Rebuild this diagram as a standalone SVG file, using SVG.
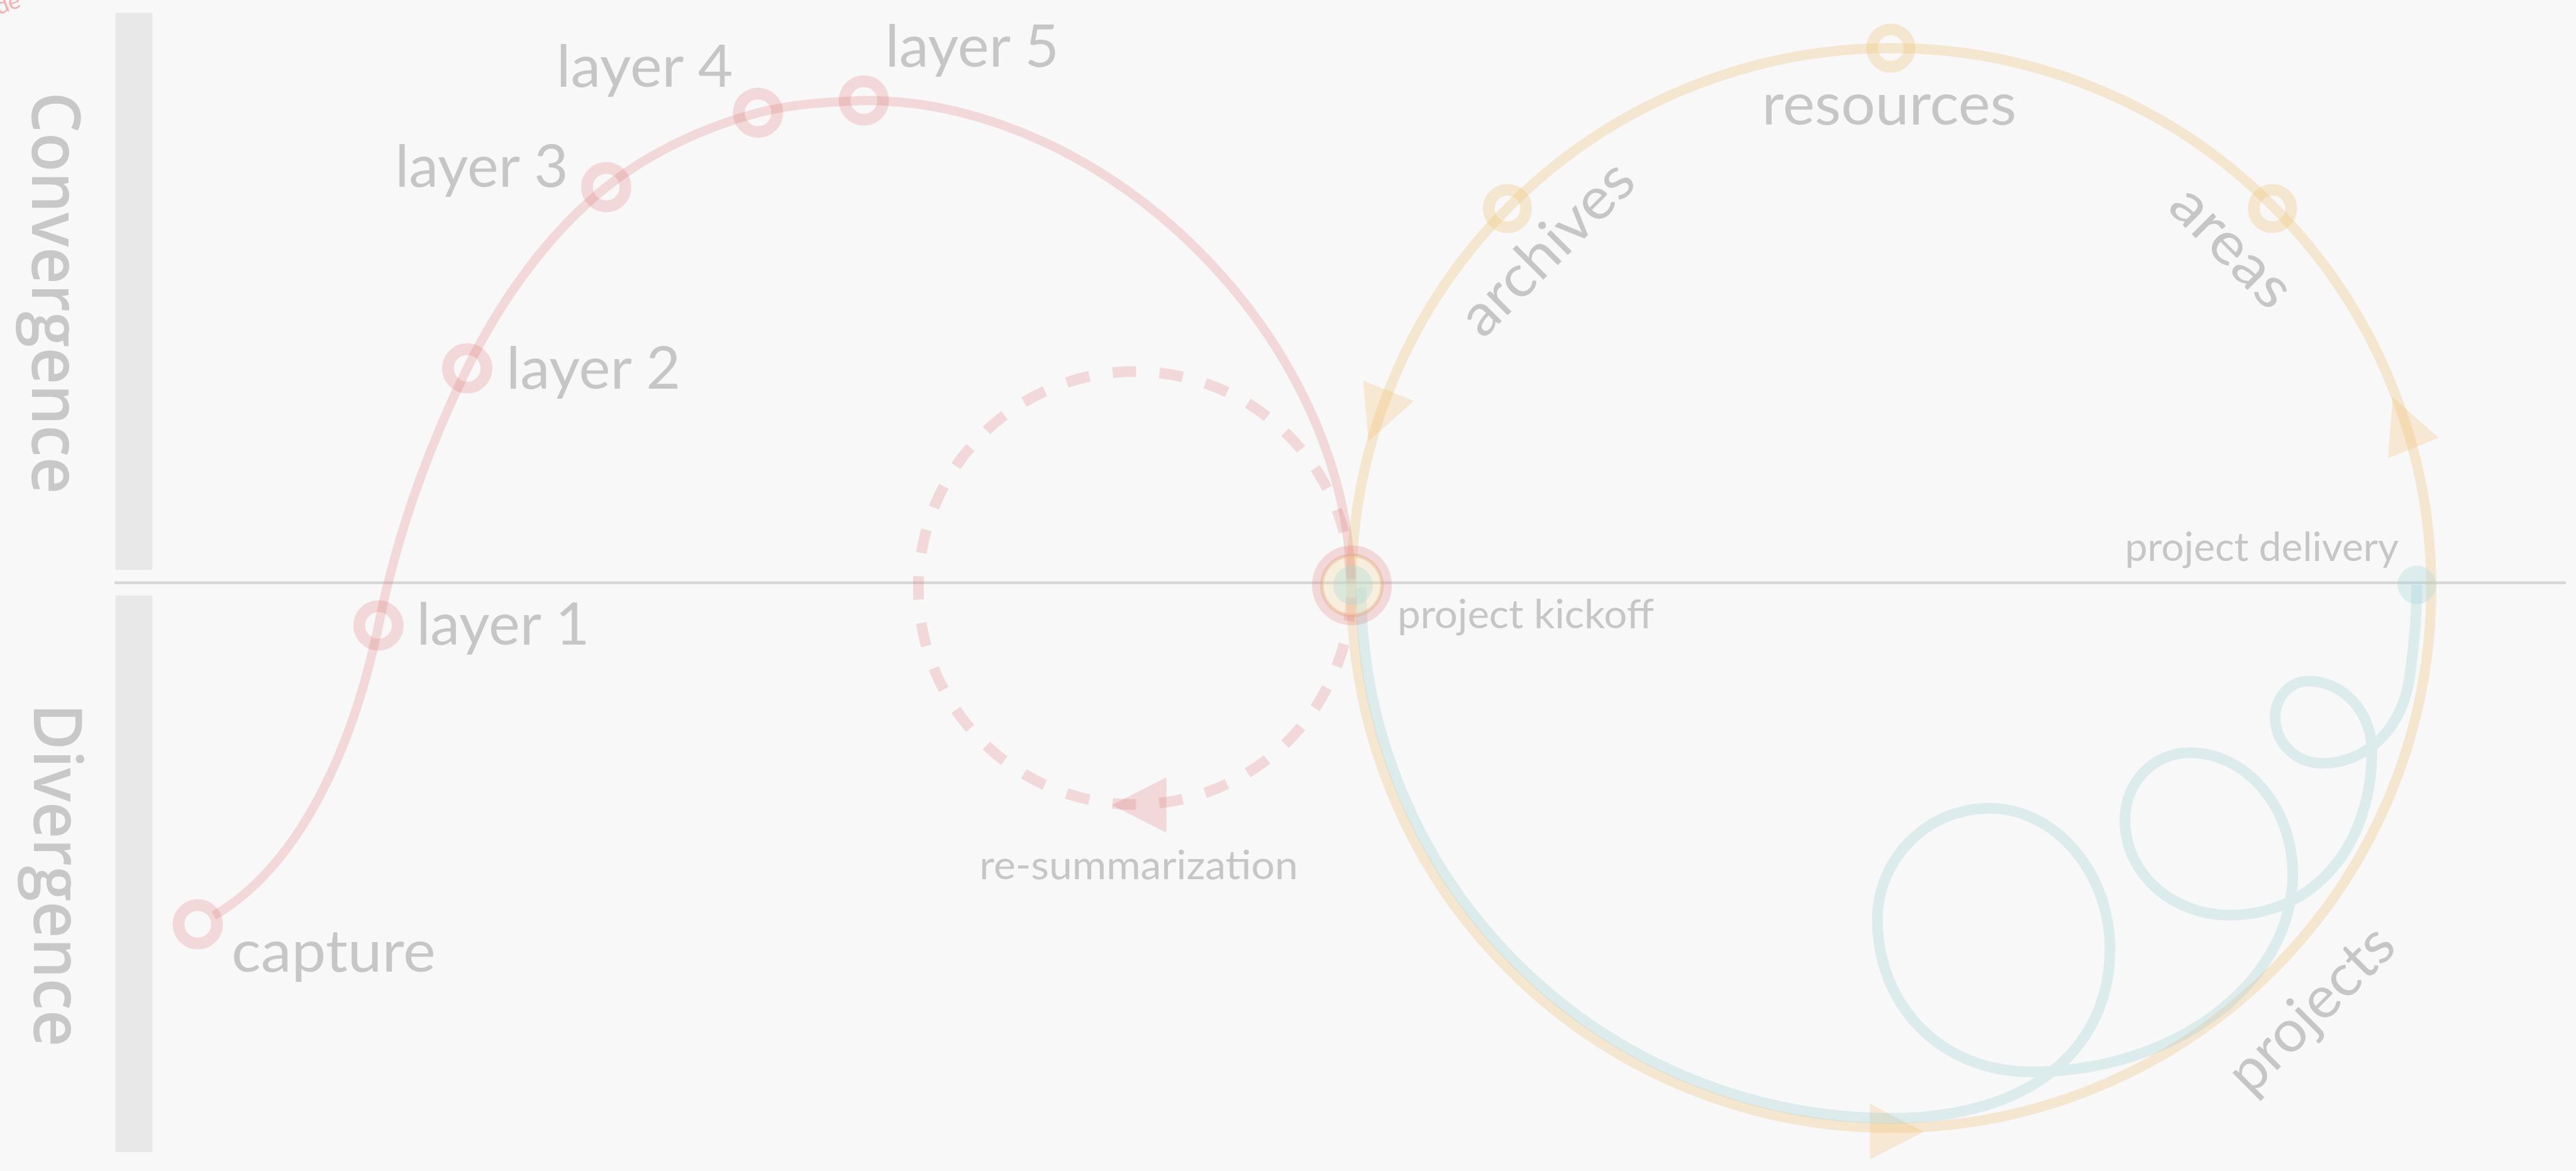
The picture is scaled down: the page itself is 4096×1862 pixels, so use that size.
<svg xmlns="http://www.w3.org/2000/svg" width="4096" height="1862" viewBox="0 0 4096 1862">
<style>
  text { font-family: Lato, "Open Sans", "Liberation Sans", sans-serif; fill: #c6c6c6; }
  .lbl { font-size: 110px; }
  .sm { font-size: 76px; }
  .side { font-family: "Open Sans", "Noto Sans", "Liberation Sans", sans-serif; font-weight: 600; font-size: 125px; fill: #c8c8c8; }
  .red { fill: none; stroke: #e07a7a; stroke-opacity: 0.26; }
  .yel { fill: none; stroke: #f0c070; stroke-opacity: 0.3; }
  .blu { fill: none; stroke: #95cdd2; stroke-opacity: 0.28; }
  .ring { stroke-width: 22; }
  .yfill { fill: #f0c070; fill-opacity: 0.28; }
  .rfill { fill: #e07a7a; fill-opacity: 0.26; }
  .bar { fill: #e8e8e8; }
</style>
<rect width="4096" height="1862" fill="#f8f8f8"/>
<g transform="scale(0.85)">
  <text transform="translate(-2,28) rotate(-20)" font-family="Open Sans, sans-serif" font-size="42" style="fill:#f7b0b0">de</text>

  <g id="axis">
    <rect class="bar" x="216" y="24" width="69" height="1042"/>
    <rect class="bar" x="216" y="1114" width="69" height="1041"/>
    <line x1="214" y1="1090" x2="4800" y2="1090" stroke="#d6d6d6" stroke-width="5"/>
    <text class="side" transform="translate(60,172) rotate(90)" textLength="752" lengthAdjust="spacingAndGlyphs">Convergence</text>
    <text class="side" transform="translate(63,1316) rotate(90)" textLength="642" lengthAdjust="spacingAndGlyphs">Divergence</text>
  </g>

  <g id="connectors">
    <circle class="yel" cx="3538" cy="1100" r="1010" stroke-width="19"/>
    <polygon class="yfill" points="2550,712 2645,750 2560,826"/>
    <polygon class="yfill" points="4476,743 4562,819 4467,857"/>
    <polygon class="yfill" points="3498,2065 3599,2117 3498,2169"/>
    <path class="blu" stroke-width="20" d="M2546,1100 A992,992 0 0 0 3538,2092 C3800,2092 3947,1960 3947,1775 C3947,1633 3845,1512 3721,1512 C3606,1512 3512,1606 3512,1720 C3512,1880 3630,2005 3800,2005 C4069,2005 4289,1838 4289,1635 C4289,1510 4202,1408 4096,1408 C4029,1408 3975,1464 3975,1533 C3975,1640 4070,1712 4170,1712 C4330,1712 4437,1580 4437,1405 C4437,1333 4384,1274 4318,1274 C4284,1274 4256,1305 4256,1341 C4256,1395 4300,1428 4345,1428 C4420,1428 4500,1370 4510,1246 C4518,1190 4521,1150 4521,1094"/>
    <path class="red" stroke-width="17" d="M400,1713 C560,1620 660,1400 708,1170 C742,1003 799,842 874,689 C936,563 1025,437 1134,350 C1216,285 1317,238 1418,211 C1483,194 1549,191 1616,188 C2080,188 2520,640 2527,1090"/>
    <circle class="red" cx="2123" cy="1100" r="405" stroke-width="20" stroke-dasharray="44 44" stroke-dashoffset="-18"/>
    <polygon class="rfill" points="2080,1506 2182,1454 2182,1558"/>
  </g>

  <g id="capture"><circle class="red ring" cx="370" cy="1729" r="36"/><text class="lbl" x="433" y="1818" textLength="382" lengthAdjust="spacingAndGlyphs">capture</text></g>
  <g id="layer1"><circle class="red ring" cx="708" cy="1170" r="36"/><text class="lbl" x="779" y="1206" textLength="324" lengthAdjust="spacingAndGlyphs">layer 1</text></g>
  <g id="layer2"><circle class="red ring" cx="874" cy="689" r="36"/><text class="lbl" x="947" y="727" textLength="326" lengthAdjust="spacingAndGlyphs">layer 2</text></g>
  <g id="layer3"><circle class="red ring" cx="1134" cy="350" r="36"/><text class="lbl" x="739" y="349" textLength="324" lengthAdjust="spacingAndGlyphs">layer 3</text></g>
  <g id="layer4"><circle class="red ring" cx="1418" cy="211" r="36"/><text class="lbl" x="1041" y="162" textLength="330" lengthAdjust="spacingAndGlyphs">layer 4</text></g>
  <g id="layer5"><circle class="red ring" cx="1616" cy="188" r="36"/><text class="lbl" x="1656" y="125" textLength="325" lengthAdjust="spacingAndGlyphs">layer 5</text></g>

  <g id="resummarization"><text class="sm" x="1832" y="1645" font-size="77" textLength="596" lengthAdjust="spacingAndGlyphs">re-summarization</text></g>

  <g id="kickoff">
    <circle cx="2529" cy="1095" r="56" fill="#f5d9a0" fill-opacity="0.3" stroke="#eab48a" stroke-opacity="0.4" stroke-width="7"/>
    <circle class="red" cx="2529" cy="1095" r="65" stroke-width="19"/>
    <circle cx="2531" cy="1095" r="37" fill="#a8d8dc" fill-opacity="0.33"/>
    <text class="sm" x="2614" y="1175" textLength="480" lengthAdjust="spacingAndGlyphs">project kickoff</text>
  </g>

  <g id="archives"><circle class="yel ring" cx="2820" cy="390" r="35"/><text class="lbl" transform="translate(2774,636) rotate(-45)" textLength="412" lengthAdjust="spacingAndGlyphs">archives</text></g>
  <g id="resources"><circle class="yel ring" cx="3537" cy="90" r="35"/><text class="lbl" x="3296" y="233" textLength="476" lengthAdjust="spacingAndGlyphs">resources</text></g>
  <g id="areas"><circle class="yel ring" cx="4251" cy="390" r="35"/><text class="lbl" transform="translate(4052,390) rotate(45)" textLength="275" lengthAdjust="spacingAndGlyphs">areas</text></g>
  <g id="projects"><text class="lbl" transform="translate(4210,2052) rotate(-45)" textLength="392" lengthAdjust="spacingAndGlyphs">projects</text></g>

  <g id="delivery">
    <circle cx="4521" cy="1094" r="36" fill="#a8d8dc" fill-opacity="0.33"/>
    <text class="sm" x="3975" y="1050" textLength="512" lengthAdjust="spacingAndGlyphs">project delivery</text>
  </g>
</g>
</svg>
